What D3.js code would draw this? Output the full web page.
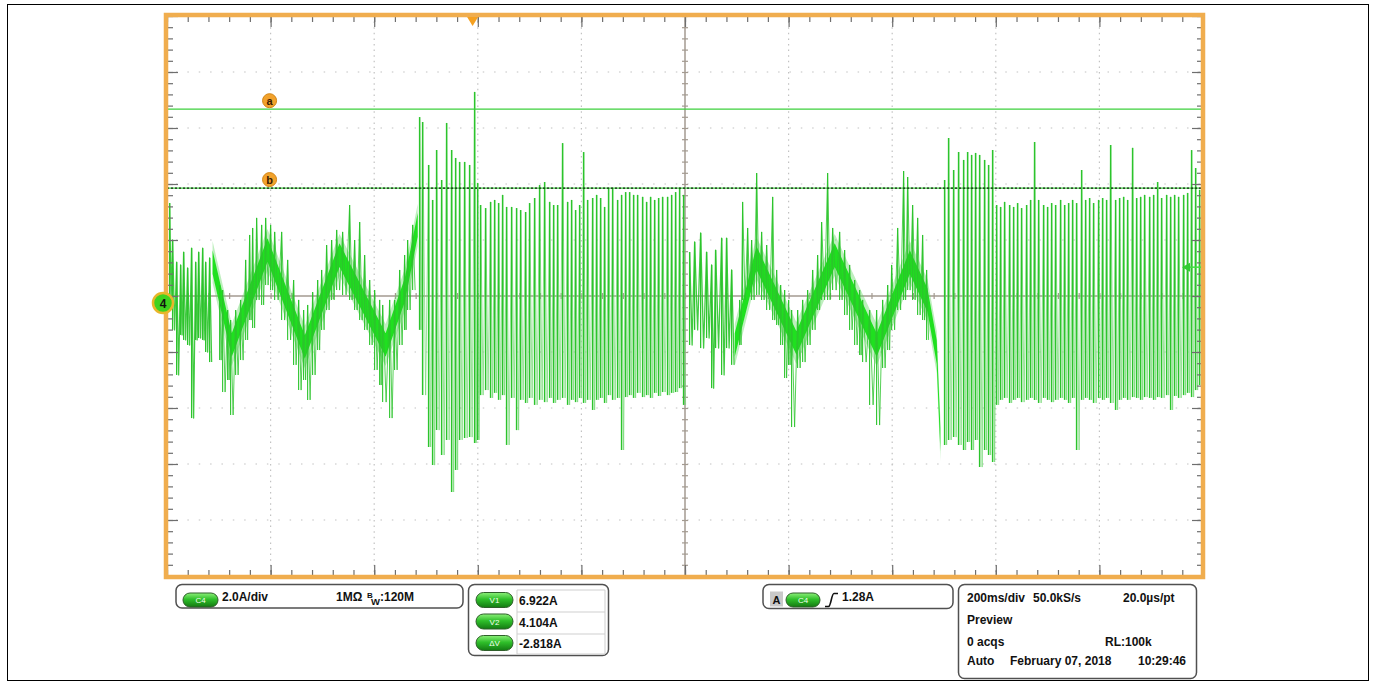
<!DOCTYPE html>
<html>
<head>
<meta charset="utf-8">
<script src="https://cdn.jsdelivr.net/npm/d3@7"></script>
<style>
  body { margin: 0; background: #fff; }
  svg { display: block; font-family: "Liberation Sans", Arial, sans-serif; }
</style>
</head>
<body>
<svg id="scope" width="1375" height="683"></svg>
<script>
// ---------------- acquisition / display settings ----------------
const timeWindow = [-590, 1410];      // ms, 10 div x 200 ms/div, trigger at 0
const currentWindow = [-9.75, 10.25]; // A, 10 div x 2.0 A/div
const msPerDiv = 200, ampsPerDiv = 2;
const cursorA = 6.922, cursorB = 4.104;
const triggerLevel = 1.28;

// ---------------- trace data (time in ms, current in A) ----------------
// centre of the dense low-frequency ripple band
const rippleTime1 = [-502, -465, -396, -324, -257, -168, -131, -106];
const rippleMid1  = [1.46, -1.50, 1.89, -1.57, 1.71, -1.50, 0.46, 2.79];
const rippleTime2 = [506, 548, 625, 699, 780, 844, 878, 896, 903];
const rippleMid2  = [-1.50, 1.61, -1.43, 1.71, -1.50, 1.46, 0.11, -1.75, -4.89];

// noisy stretch at the start of each ripple segment
const noiseTime1 = [-584.9, -579.2, -571.4, -563.7, -557.9, -550.2, -542.5, -534.7, -528.9, -521.2, -515.4, -507.7];
const noiseHigh1 = [3.57, 2.25, 1.46, 1.36, 1.82, 1.25, 1.96, 1.46, 1.82, 1.96, 1.46, 1.61];
const noiseLow1  = [0.11, -0.96, -2.57, -1.14, -1.32, -1.50, -4.11, -1.32, -1.25, -1.32, -1.75, -2.11];
const noiseTime2 = [418.9, 428.6, 440.2, 451.7, 461.4, 469.1, 480.7, 490.3, 500.0];
const noiseHigh2 = [1.82, 2.18, 2.50, 1.82, 1.36, 1.89, 2.32, 2.32, 1.18];
const noiseLow2  = [-1.50, -0.96, -1.61, -1.25, -3.04, -1.61, -2.57, -1.61, -2.21];

// spikes riding on the ripple band
const spikeTime1 = [-488.4, -482.6, -473.0, -467.2, -457.5, -447.9, -438.2, -430.5, -424.7, -417.0, -407.3, -399.6, -390.0, -382.2, -368.7, -357.1, -345.6, -335.9, -326.3, -318.5, -308.9, -299.2, -291.5, -281.9, -272.2, -262.5, -251.0, -237.5, -227.8, -218.1, -208.5, -198.8, -189.2, -179.5, -173.7, -160.2, -150.6, -140.9, -131.3, -125.5, -115.8];
const spikeHigh1 = [0.64, 0.46, -0.25, -0.61, -0.25, 0.11, 1.54, 2.43, 2.68, 3.04, 2.79, 3.04, 2.79, 2.54, 2.54, 1.54, 0.82, 0.11, -0.25, -0.07, 0.39, 0.82, 1.18, 2.07, 2.25, 2.61, 2.54, 3.50, 2.25, 2.89, 1.71, 0.82, 0.46, 0.11, -0.07, 0.11, 0.11, 1.18, 1.71, 2.25, 2.79];
const spikeLow1  = [-2.04, -3.18, -2.75, -4.00, -2.57, -2.04, -1.32, -0.61, -0.89, 0.11, -0.07, 0.64, 0.46, 0.11, -0.61, -1.32, -2.21, -3.11, -2.75, -3.46, -2.57, -1.68, -0.96, -0.25, 0.11, 0.46, 0.29, 0.11, -0.25, -0.61, -0.96, -1.50, -2.39, -2.93, -3.54, -4.11, -2.39, -1.50, -0.96, -0.25, 0.46];
const spikeTime2 = [515.4, 521.2, 530.9, 538.6, 548.3, 557.9, 567.6, 579.2, 586.9, 594.6, 602.3, 610.0, 615.8, 627.4, 637.1, 646.7, 656.4, 666.0, 673.7, 685.3, 695.0, 708.5, 718.1, 727.8, 737.5, 747.1, 752.9, 766.4, 779.9, 791.5, 801.2, 808.9, 820.5, 832.0, 839.8, 849.4, 859.1, 868.7, 876.4];
const spikeHigh2 = [0.11, 3.61, 2.68, 2.25, 4.64, 2.54, 2.07, 3.79, 1.18, 0.64, 0.46, 0.11, -0.25, -0.25, 0.11, 0.46, 1.18, 1.71, 2.89, 4.64, 2.68, 2.54, 1.89, 1.36, 0.82, 0.46, 0.11, -0.25, -0.25, 0.11, 0.64, 1.36, 2.68, 4.71, 4.50, 3.50, 3.04, 2.43, 1.18];
const spikeLow2  = [-1.50, 0.11, 0.46, 0.11, 0.29, 0.11, -0.25, -0.61, -0.79, -1.50, -2.68, -2.21, -4.43, -2.32, -2.11, -1.50, -0.96, -0.25, 0.11, 0.11, 0.46, 0.11, -0.43, -0.96, -1.50, -1.86, -2.11, -3.64, -4.36, -2.32, -1.68, -0.96, -0.25, 0.11, 0.46, 0.11, -0.43, -0.61, -1.32];

// switching bursts: peak-to-peak excursions
const burstTime1 = [-102.3, -96.5, -84.9, -77.2, -69.5, -59.8, -50.2, -40.5, -32.8, -25.1, -15.4, -5.8, 3.9, 9.7,
  15.4, 25.1, 34.7, 42.5, 50.2, 57.9, 65.6, 75.3, 84.9, 92.7, 102.3, 110.0, 119.7, 129.3, 139.0, 148.7, 156.4, 164.1, 173.7, 183.4, 191.1, 198.8, 206.6, 214.3, 222.0, 231.7, 239.4, 247.1, 254.8, 262.5, 270.3, 279.9, 287.6, 295.4, 303.1, 310.8, 318.5, 328.2, 335.9, 343.6, 351.4, 359.1, 366.8, 376.4, 384.2, 391.9, 399.6, 407.3];
const burstHigh1 = [6.64, 6.46, 4.93, 3.68, 5.46, 4.39, 6.43, 5.46, 5.18, 5.04, 5.04, 4.93, 7.54, 4.29,
  3.50, 3.39, 3.61, 3.68, 3.57, 3.86, 3.43, 3.43, 3.39, 3.32, 3.25, 3.57, 3.75, 4.21, 4.32, 3.61, 3.50, 3.50, 5.71, 3.61, 3.68, 3.32, 3.50, 5.39, 3.68, 3.75, 3.86, 3.75, 3.43, 4.11, 4.11, 3.68, 3.86, 3.96, 3.96, 3.86, 3.86, 3.79, 3.61, 3.79, 3.68, 3.75, 3.79, 3.79, 3.86, 3.96, 4.11, 3.86];
const burstLow1  = [-0.96, -3.29, -5.14, -5.79, -4.54, -5.43, -4.89, -6.75, -5.96, -4.89, -4.82, -4.79, -5.00, -4.89,
  -3.29, -3.11, -3.39, -3.21, -3.46, -3.29, -5.07, -3.39, -4.54, -3.46, -3.57, -3.39, -3.64, -3.46, -3.54, -3.39, -3.57, -3.46, -3.39, -3.64, -3.46, -3.54, -3.39, -3.57, -3.46, -3.82, -3.46, -3.39, -3.57, -3.29, -3.46, -3.39, -5.25, -3.36, -3.29, -3.39, -3.21, -3.36, -3.29, -3.39, -3.21, -3.32, -3.18, -3.29, -3.21, -3.18, -3.04, -3.64];
const burstTime2 = [911.2, 918.9, 928.6, 938.2, 947.9, 955.6, 963.3, 971.0, 978.8, 988.4, 996.1, 1003.9,
  1011.6, 1019.3, 1027.0, 1036.7, 1044.4, 1052.1, 1059.8, 1069.5, 1077.2, 1084.9, 1092.7, 1102.3, 1110.0, 1117.8, 1125.5, 1135.1, 1142.9, 1150.6, 1158.3, 1166.0, 1175.7, 1183.4, 1191.1, 1198.8, 1208.5, 1216.2, 1223.9, 1231.7, 1241.3, 1249.0, 1256.8, 1264.5, 1274.1, 1281.9, 1289.6, 1297.3, 1307.0, 1314.7, 1322.4, 1330.1, 1339.8, 1347.5, 1355.2, 1362.9, 1372.6, 1380.3, 1388.0, 1395.8, 1403.5];
const burstHigh2 = [4.39, 5.89, 4.75, 5.39, 5.11, 5.39, 5.29, 5.36, 5.29, 5.11, 4.93, 5.46,
  3.50, 3.43, 3.61, 3.50, 3.43, 3.57, 3.39, 3.50, 3.68, 5.75, 3.68, 3.50, 3.43, 3.57, 3.50, 3.68, 3.50, 3.57, 3.68, 3.57, 4.75, 3.68, 3.75, 3.57, 3.68, 3.75, 3.68, 5.64, 3.68, 3.75, 3.79, 3.68, 5.54, 3.75, 3.79, 3.86, 3.79, 3.86, 4.32, 3.75, 3.86, 3.79, 3.86, 3.79, 3.86, 3.93, 5.46, 4.82, 4.04];
const burstLow2  = [-5.07, -4.89, -4.79, -5.07, -5.25, -4.96, -5.25, -4.89, -5.86, -5.25, -5.43, -5.68,
  -3.64, -3.46, -3.39, -3.57, -3.46, -3.39, -3.54, -3.46, -3.39, -3.46, -3.57, -3.39, -3.46, -3.54, -3.46, -3.39, -3.46, -3.57, -3.39, -5.25, -3.46, -3.39, -3.46, -3.57, -3.39, -3.46, -3.39, -3.57, -3.82, -3.46, -3.39, -3.46, -3.36, -3.39, -3.46, -3.36, -3.39, -3.46, -3.36, -3.39, -3.29, -3.82, -3.32, -3.39, -3.29, -3.21, -3.36, -3.11, -2.93];

// ---------------- readout text ----------------
const channelLabel = "C4";
const scaleText = "2.0A/div";
const couplingText = "1MΩ";
const cursorNames = ["V1", "V2", "ΔV"];
const cursorValues = ["6.922A", "4.104A", "-2.818A"];
const triggerText = "1.28A";
const timebaseRows = [
  ["200ms/div", "50.0kS/s", "20.0µs/pt"],
  ["Preview"],
  ["0 acqs", "RL:100k"],
  ["Auto", "February 07, 2018", "10:29:46"]
];

// ---------------- scales ----------------
const svg = d3.select("#scope");
const plot = { left: 167, right: 1203, top: 16, bottom: 576 };
const x = d3.scaleLinear().domain(timeWindow).range([plot.left, plot.right]);
const y = d3.scaleLinear().domain(currentWindow).range([plot.bottom, plot.top]);

const majorT = d3.range(0, 11).map(i => timeWindow[0] + i * msPerDiv);
const minorT = d3.range(0, 51).map(i => timeWindow[0] + i * msPerDiv / 5);
const majorA = d3.range(0, 11).map(i => currentWindow[0] + i * ampsPerDiv);
const minorA = d3.range(0, 51).map(i => currentWindow[0] + i * ampsPerDiv / 5);
const centreT = majorT[5], centreA = majorA[5];

const defs = svg.append("defs");
defs.append("clipPath").attr("id", "plotClip").append("rect")
  .attr("x", plot.left).attr("y", plot.top)
  .attr("width", plot.right - plot.left).attr("height", plot.bottom - plot.top);
const grad = defs.append("linearGradient").attr("id", "pillGrad")
  .attr("x1", 0).attr("y1", 0).attr("x2", 0).attr("y2", 1);
grad.append("stop").attr("offset", "0%").attr("stop-color", "#8cf07a");
grad.append("stop").attr("offset", "45%").attr("stop-color", "#2fbf2a");
grad.append("stop").attr("offset", "100%").attr("stop-color", "#137a12");

// outer page border
svg.append("rect").attr("x", 7.5).attr("y", 4.5).attr("width", 1361).attr("height", 676)
  .attr("fill", "none").attr("stroke", "#000").attr("stroke-width", 1);

// ---------------- graticule ----------------
const grid = svg.append("g");
grid.selectAll(".vdot").data(majorT.filter((d, i) => i > 0 && i < 10 && i !== 5)).join("line")
  .attr("x1", d => x(d)).attr("x2", d => x(d))
  .attr("y1", plot.top).attr("y2", plot.bottom)
  .attr("stroke", "#c2c2c2").attr("stroke-width", 1.2)
  .attr("stroke-dasharray", "1.5 4.1");
grid.selectAll(".hdot").data(majorA.filter((d, i) => i > 0 && i < 10 && i !== 5)).join("line")
  .attr("y1", d => y(d)).attr("y2", d => y(d))
  .attr("x1", plot.left).attr("x2", plot.right)
  .attr("stroke", "#c2c2c2").attr("stroke-width", 1.2)
  .attr("stroke-dasharray", "1.5 9.86")
  .attr("stroke-dashoffset", -9);

// centre cross with fine ticks
const centreColor = "#a39a90";
grid.append("line").attr("x1", plot.left).attr("x2", plot.right)
  .attr("y1", y(centreA)).attr("y2", y(centreA))
  .attr("stroke", centreColor).attr("stroke-width", 1.5);
grid.append("line").attr("y1", plot.top).attr("y2", plot.bottom)
  .attr("x1", x(centreT)).attr("x2", x(centreT))
  .attr("stroke", centreColor).attr("stroke-width", 1.5);

function styleAxis(g, color) {
  g.select(".domain").remove();
  g.selectAll(".tick line").attr("stroke", color).attr("stroke-width", 1.2);
  g.selectAll(".tick text").remove();
}
grid.append("g").attr("transform", `translate(0,${y(centreA) - 3})`)
  .call(d3.axisBottom(x).tickValues(minorT).tickSize(6).tickFormat(""))
  .call(g => styleAxis(g, centreColor));
grid.append("g").attr("transform", `translate(${x(centreT) - 3},0)`)
  .call(d3.axisRight(y).tickValues(minorA).tickSize(6).tickFormat(""))
  .call(g => styleAxis(g, centreColor));

// ---------------- waveform ----------------
const trace = svg.append("g").attr("clip-path", "url(#plotClip)");
const spikeColor = "#2cc42c";
const zigColor = "#78d978";

function drawBand(times, mids) {
  const pts = times.map((t, i) => ({ t, m: mids[i] }));
  trace.append("path").datum(pts)
    .attr("d", d3.area().x(d => x(d.t)).y0(d => y(d.m - 0.75)).y1(d => y(d.m + 0.75)))
    .attr("fill", "#5cd85c").attr("opacity", 0.4);
  trace.append("path").datum(pts)
    .attr("d", d3.area().x(d => x(d.t)).y0(d => y(d.m - 0.42)).y1(d => y(d.m + 0.42)))
    .attr("fill", "#1fe01f");
}
function rows(times, highs, lows) {
  return times.map((t, i) => ({ t, hi: highs[i], lo: lows[i] }));
}
function drawStrokes(times, highs, lows, width, color) {
  trace.append("g").selectAll("line")
    .data(rows(times, highs, lows))
    .join("line")
    .attr("x1", d => x(d.t)).attr("x2", d => x(d.t))
    .attr("y1", d => y(d.hi)).attr("y2", d => y(d.lo))
    .attr("stroke", color).attr("stroke-width", width);
}
// the oscillation between successive extremes: high at each sample, low half-way to the next
function drawZigzag(times, highs, lows, width, color, opacity) {
  const pts = [];
  times.forEach((t, i) => {
    const next = i < times.length - 1 ? times[i + 1] : t + (t - times[i - 1]);
    pts.push([x(t), y(highs[i])]);
    pts.push([x((t + next) / 2), y(lows[i])]);
  });
  trace.append("path").attr("d", d3.line()(pts))
    .attr("fill", "none").attr("stroke", color).attr("stroke-width", width)
    .attr("stroke-linejoin", "round").attr("opacity", opacity);
}

drawBand(rippleTime1, rippleMid1);
drawBand(rippleTime2, rippleMid2);
drawZigzag(spikeTime1, spikeHigh1, spikeLow1, 1, spikeColor, 0.8);
drawZigzag(spikeTime2, spikeHigh2, spikeLow2, 1, spikeColor, 0.8);
drawStrokes(spikeTime1, spikeHigh1, spikeLow1, 1.1, spikeColor);
drawStrokes(spikeTime2, spikeHigh2, spikeLow2, 1.1, spikeColor);
drawZigzag(noiseTime1, noiseHigh1, noiseLow1, 1.3, spikeColor, 0.9);
drawZigzag(noiseTime2, noiseHigh2, noiseLow2, 1.3, spikeColor, 0.9);
drawStrokes(noiseTime1, noiseHigh1, noiseLow1, 1.3, spikeColor);
drawStrokes(noiseTime2, noiseHigh2, noiseLow2, 1.3, spikeColor);
drawZigzag(burstTime1, burstHigh1, burstLow1, 1, zigColor, 0.75);
drawZigzag(burstTime2, burstHigh2, burstLow2, 1, zigColor, 0.75);
drawStrokes(burstTime1, burstHigh1, burstLow1, 1.5, spikeColor);
drawStrokes(burstTime2, burstHigh2, burstLow2, 1.5, spikeColor);

// ---------------- cursors ----------------
const cur = svg.append("g");
cur.append("line").attr("x1", plot.left).attr("x2", plot.right)
  .attr("y1", y(cursorA)).attr("y2", y(cursorA))
  .attr("stroke", "#3cd03c").attr("stroke-width", 1.3);
cur.append("line").attr("x1", plot.left).attr("x2", plot.right)
  .attr("y1", y(cursorB)).attr("y2", y(cursorB))
  .attr("stroke", "#3cd03c").attr("stroke-width", 1.3);
cur.append("line").attr("x1", plot.left).attr("x2", plot.right)
  .attr("y1", y(cursorB)).attr("y2", y(cursorB))
  .attr("stroke", "#1a1a1a").attr("stroke-width", 1.3).attr("stroke-dasharray", "2 2");

[["a", cursorA], ["b", cursorB]].forEach(([name, v]) => {
  const cx = x(-392), cy = y(v) - 8.5;
  cur.append("circle").attr("cx", cx).attr("cy", cy).attr("r", 7)
    .attr("fill", "#f2a22c").attr("stroke", "#d38512").attr("stroke-width", 1);
  cur.append("text").attr("x", cx).attr("y", cy + 4).attr("text-anchor", "middle")
    .attr("font-size", 11).attr("font-weight", "bold").attr("fill", "#3a1a00").text(name);
});

// ---------------- frame ----------------
const frame = svg.append("g");
function edgeAxis(axis, transform, values, size) {
  frame.append("g").attr("transform", transform)
    .call(axis.tickValues(values).tickSize(size).tickFormat(""))
    .call(g => styleAxis(g, "#6e6e6e"));
}
edgeAxis(d3.axisBottom(x), `translate(0,${plot.top})`, minorT, 6);
edgeAxis(d3.axisBottom(x), `translate(0,${plot.top})`, majorT, 11);
edgeAxis(d3.axisTop(x), `translate(0,${plot.bottom})`, minorT, 6);
edgeAxis(d3.axisTop(x), `translate(0,${plot.bottom})`, majorT, 11);
edgeAxis(d3.axisRight(y), `translate(${plot.left},0)`, minorA, 6);
edgeAxis(d3.axisRight(y), `translate(${plot.left},0)`, majorA, 11);
edgeAxis(d3.axisLeft(y), `translate(${plot.right},0)`, minorA, 6);
edgeAxis(d3.axisLeft(y), `translate(${plot.right},0)`, majorA, 11);

frame.append("rect").attr("x", plot.left - 1).attr("y", plot.top - 1)
  .attr("width", plot.right - plot.left + 1).attr("height", plot.bottom - plot.top + 2)
  .attr("fill", "none").attr("stroke", "#f0ad4e").attr("stroke-width", 4.5);

// trigger position marker
const tx = x(0);
frame.append("path")
  .attr("d", `M${tx - 5.5},${plot.top + 1}L${tx + 5.5},${plot.top + 1}L${tx},${plot.top + 10}Z`)
  .attr("fill", "#f5a020");

// trigger level marker at the right edge
const ty = y(triggerLevel);
frame.append("line").attr("x1", plot.right - 16).attr("x2", plot.right - 2)
  .attr("y1", ty).attr("y2", ty).attr("stroke", "#44dd44").attr("stroke-width", 1.5);
frame.append("path")
  .attr("d", `M${plot.right - 21},${ty}L${plot.right - 13},${ty - 4.5}L${plot.right - 13},${ty + 4.5}Z`)
  .attr("fill", "#33cc33");

// channel ground marker
frame.append("circle").attr("cx", plot.left - 4).attr("cy", y(0)).attr("r", 10)
  .attr("fill", "#3fd21f").attr("stroke", "#e8b62a").attr("stroke-width", 2.5);
frame.append("text").attr("x", plot.left - 4).attr("y", y(0) + 4.5).attr("text-anchor", "middle")
  .attr("font-size", 12).attr("font-weight", "bold").attr("fill", "#111").text("4");

// ---------------- readouts ----------------
const panel = svg.append("g").attr("font-weight", "bold").attr("font-size", 12).attr("fill", "#111");

function box(x0, y0, w, h) {
  panel.append("rect").attr("x", x0).attr("y", y0).attr("width", w).attr("height", h)
    .attr("rx", 6).attr("fill", "#fff").attr("stroke", "#505050").attr("stroke-width", 1.5);
}
function pill(cx, cy, w, h, label) {
  panel.append("rect").attr("x", cx - w / 2).attr("y", cy - h / 2).attr("width", w).attr("height", h)
    .attr("rx", h / 2).attr("fill", "url(#pillGrad)").attr("stroke", "#2f5f2a").attr("stroke-width", 1);
  panel.append("text").attr("x", cx).attr("y", cy + 3).attr("text-anchor", "middle")
    .attr("font-size", 8).attr("font-weight", "normal").attr("fill", "#f4fff0").text(label);
}

// vertical settings
box(176, 584.5, 287, 23.5);
pill(200.5, 600, 35, 14, channelLabel);
panel.append("text").attr("x", 222).attr("y", 601).text(scaleText);
panel.append("text").attr("x", 336).attr("y", 601).text(couplingText);
panel.append("text").attr("x", 367).attr("y", 597.5).attr("font-size", 8).text("B");
panel.append("text").attr("x", 371).attr("y", 604.5).attr("font-size", 9.5).text("W");
panel.append("text").attr("x", 380).attr("y", 601).text(":120M");

// cursor readout table
box(468.5, 584.5, 140, 71);
const rowLines = [590, 612, 634, 654];
panel.selectAll(".rowline").data(rowLines).join("line")
  .attr("x1", 517).attr("x2", 605).attr("y1", d => d).attr("y2", d => d)
  .attr("stroke", "#cfcfcf").attr("stroke-width", 1);
[517, 605].forEach(v => panel.append("line").attr("x1", v).attr("x2", v)
  .attr("y1", 590).attr("y2", 654).attr("stroke", "#cfcfcf").attr("stroke-width", 1));
cursorNames.forEach((n, i) => {
  const cy = 600 + i * 21.5;
  pill(494.5, cy, 37, 15, n);
  panel.append("text").attr("x", 519).attr("y", cy + 5).text(cursorValues[i]);
});

// trigger readout
box(763, 584.5, 190, 24);
panel.append("rect").attr("x", 770).attr("y", 591.5).attr("width", 13).attr("height", 15)
  .attr("fill", "#c9c9c9");
panel.append("text").attr("x", 776.5).attr("y", 603.5).attr("text-anchor", "middle")
  .attr("font-size", 11).text("A");
pill(803, 600, 34, 14, channelLabel);
panel.append("path").attr("d", "M825,606.5L828.5,606.5C831,606.5 831.5,593.5 834,593.5L838,593.5")
  .attr("fill", "none").attr("stroke", "#111").attr("stroke-width", 1.6);
panel.append("text").attr("x", 842).attr("y", 601).text(triggerText);

// timebase / acquisition readout
box(958.5, 584.5, 238, 94);
const rowBase = [602, 624, 646, 665];
const colX = [[967, 1033, 1123], [967], [967, 1105], [967, 1010, 1138]];
timebaseRows.forEach((row, r) => row.forEach((txt, c) => {
  panel.append("text").attr("x", colX[r][c]).attr("y", rowBase[r]).text(txt);
}));
</script>
</body>
</html>
